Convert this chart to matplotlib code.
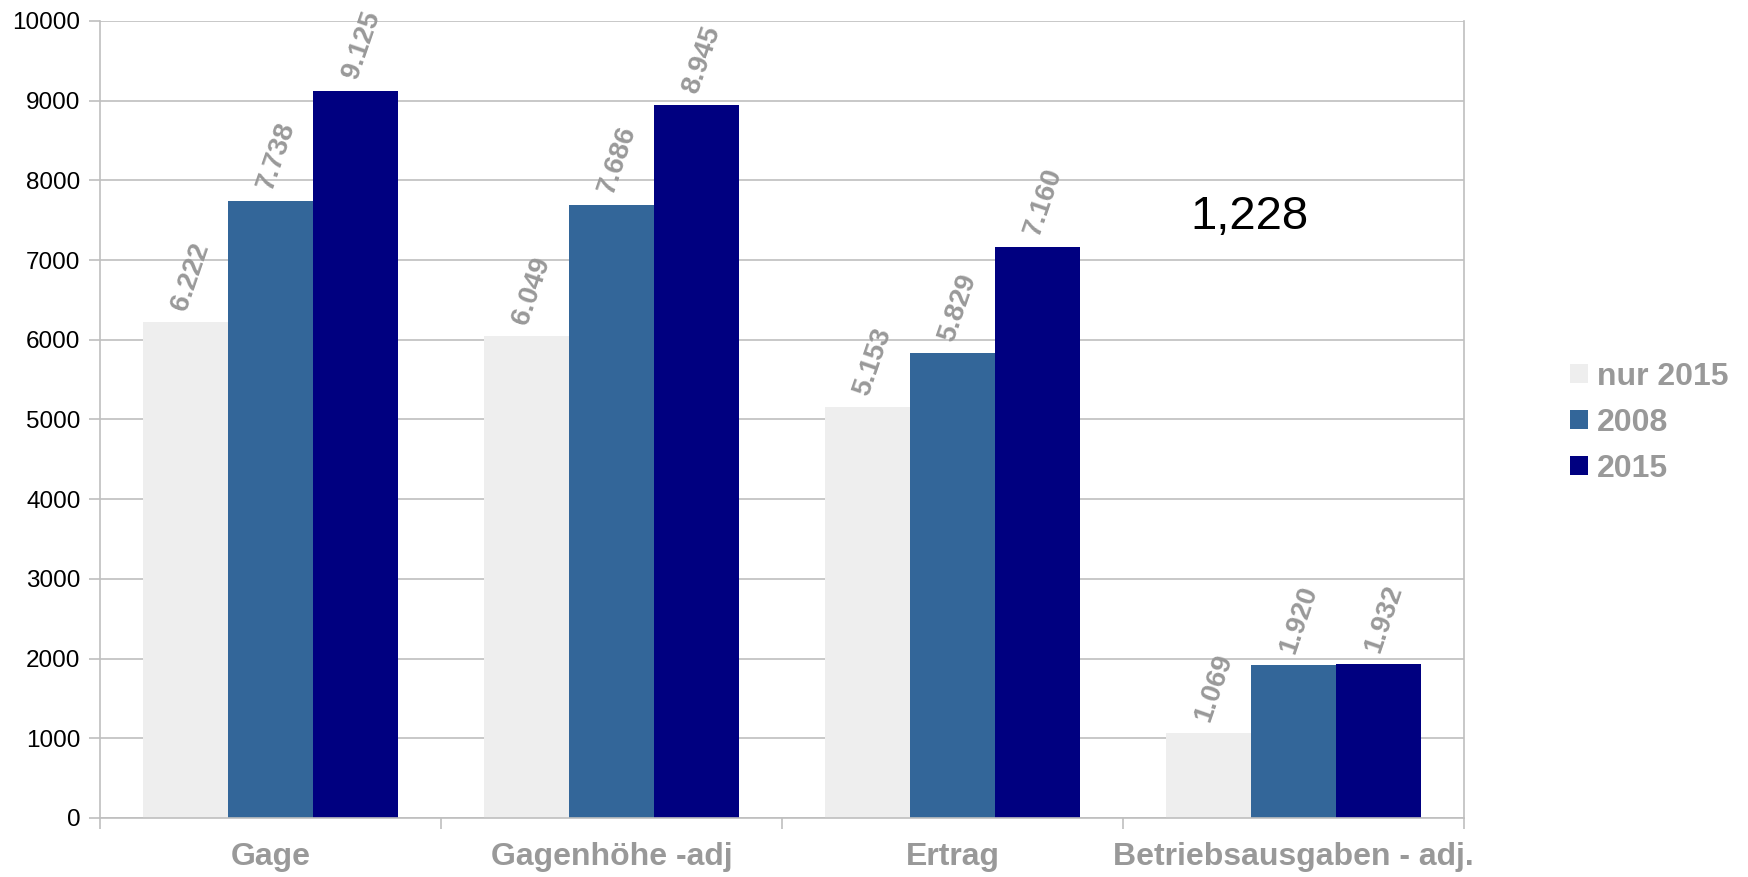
import matplotlib
matplotlib.use("Agg")
import matplotlib.pyplot as plt
import numpy as np
from matplotlib.ticker import FixedLocator, NullFormatter

categories = ["Gage", "Gagenhöhe -adj", "Ertrag", "Betriebsausgaben - adj."]
series_names = ["nur 2015", "2008", "2015"]
nur_2015 = [6222, 6049, 5153, 1069]
y2008 = [7738, 7686, 5829, 1920]
y2015 = [9125, 8945, 7160, 1932]
colors = ["#eeeeee", "#336699", "#000080"]
y_ticks = [0, 1000, 2000, 3000, 4000, 5000, 6000, 7000, 8000, 9000, 10000]
note_text = "1,228"

GRAY = "#999999"
GRID = "#bfbfbf"

plt.rcParams["font.family"] = ["Liberation Sans", "DejaVu Sans"]

fig = plt.figure(figsize=(17.48, 8.77), dpi=100)
ax = fig.add_axes([100 / 1748, 1 - 818 / 877, 1364 / 1748, 797 / 877])

x = np.arange(len(categories))
w = 0.25
for i, (vals, name, col) in enumerate(zip([nur_2015, y2008, y2015], series_names, colors)):
    xs = x + (i - 1) * w
    ax.bar(xs, vals, width=w, color=col, label=name, zorder=2, linewidth=0)
    for xi, v in zip(xs, vals):
        lbl = f"{v:,}".replace(",", ".")
        ax.annotate(lbl, (xi, v), xytext=(4, 6), textcoords="offset points",
                    rotation=71, ha="center", va="bottom",
                    fontsize=20, fontweight="bold", color=GRAY)

ax.set_xlim(-0.5, len(categories) - 0.5)
ax.set_ylim(0, 10000)
ax.set_yticks(y_ticks)
ax.set_yticklabels([str(t) for t in y_ticks])
ax.yaxis.grid(True, color=GRID, linewidth=1.2, zorder=0)
ax.set_axisbelow(True)

ax.set_xticks(x)
ax.set_xticklabels(categories, fontsize=23, fontweight="bold", color=GRAY)
ax.xaxis.set_minor_locator(FixedLocator(np.arange(-0.5, len(categories), 1.0)))
ax.xaxis.set_minor_formatter(NullFormatter())
ax.tick_params(axis="x", which="major", length=0, pad=17)
ax.tick_params(axis="x", which="minor", length=8, width=1.2, color=GRID)
ax.tick_params(axis="y", length=8, width=1.2, color=GRID, labelsize=17.5, pad=6)

for side in ["left", "right", "bottom"]:
    ax.spines[side].set_color(GRID)
    ax.spines[side].set_linewidth(1.2)
ax.spines["top"].set_visible(False)

ax.text(2.87, 7540, note_text, fontsize=34, color="black", ha="center", va="center",
        family=["Liberation Sans Narrow", "Liberation Sans", "DejaVu Sans"])

fig.legend(loc="center left", bbox_to_anchor=(1570 / 1748, 1 - 423 / 877),
           frameon=False, prop={"weight": "bold", "size": 23},
           labelcolor=GRAY, handlelength=0.55, handleheight=0.55,
           handletextpad=0.3, labelspacing=0.5, borderpad=0, borderaxespad=0)

fig.savefig("out.png", dpi=100)
